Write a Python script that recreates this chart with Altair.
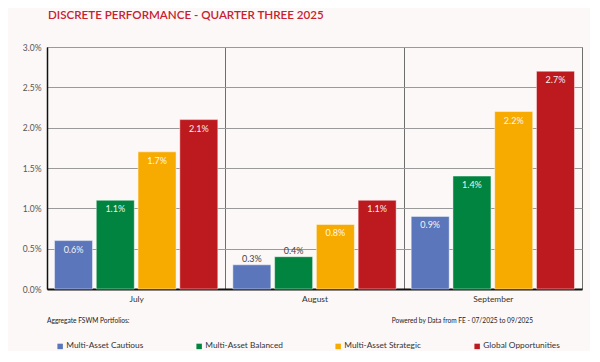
import altair as alt
import pandas as pd

months = ["July", "August", "September"]
series = ["Multi-Asset Cautious", "Multi-Asset Balanced", "Multi-Asset Strategic", "Global Opportunities"]
colors = ["#5b76bb", "#00843f", "#f7aa00", "#bc1a1e"]
cautious = [0.006, 0.003, 0.009]
balanced = [0.011, 0.004, 0.014]
strategic = [0.017, 0.008, 0.022]
global_opp = [0.021, 0.011, 0.027]

rows = []
for s, vals in zip(series, [cautious, balanced, strategic, global_opp]):
    for m, v in zip(months, vals):
        rows.append({"month": m, "series": s, "value": v})
df = pd.DataFrame(rows)

FONT = "Lato"
BG = "#fcf8f7"

x = alt.X("month:N", sort=months, title=None,
          scale=alt.Scale(paddingInner=0, paddingOuter=0),
          axis=alt.Axis(labelAngle=0, labelFontSize=8.4, labelColor="#333333", labelFont=FONT,
                        labelPadding=5, ticks=False, tickBand="extent", grid=True,
                        gridColor="#6e6e6e", gridWidth=1, domainColor="#111111", domainWidth=2))
xo = alt.XOffset("series:N", sort=series,
                 scale=alt.Scale(paddingInner=0.09, paddingOuter=0.18))
y = alt.Y("value:Q", title=None,
          scale=alt.Scale(domain=[0, 0.03], nice=False),
          axis=alt.Axis(format=".1%", values=[0, 0.005, 0.01, 0.015, 0.02, 0.025, 0.03],
                        labelFontSize=8.5, labelColor="#555555", labelFont=FONT, labelPadding=6,
                        ticks=False, grid=True, gridColor="#9a9a9a", gridWidth=1,
                        domainColor="#111111", domainWidth=1.5))

color = alt.Color("series:N", sort=series,
                  scale=alt.Scale(domain=series, range=colors),
                  legend=alt.Legend(title=None, orient="none", legendX=9, legendY=295,
                                    direction="horizontal", columns=4, gridAlign="all",
                                    columnPadding=50, symbolType="square", symbolSize=30,
                                    symbolStrokeWidth=0, labelFontSize=8.3, labelFont=FONT,
                                    labelColor="#333333", labelOffset=2))

base = alt.Chart(df)

bars = base.mark_bar(stroke="white", strokeOpacity=0.45, strokeWidth=1).encode(
    x=x, xOffset=xo, y=y, color=color)

inside = base.transform_filter(alt.datum.value >= 0.005).mark_text(
    color="white", fontSize=9, font=FONT, baseline="middle", dy=9, opacity=0.92
).encode(x=alt.X("month:N", sort=months), xOffset=alt.XOffset("series:N", sort=series),
         y="value:Q", text=alt.Text("value:Q", format=".1%"))

above = base.transform_filter(alt.datum.value < 0.005).mark_text(
    color="#444444", fontSize=9, font=FONT, baseline="middle", dy=-6
).encode(x=alt.X("month:N", sort=months), xOffset=alt.XOffset("series:N", sort=series),
         y="value:Q", text=alt.Text("value:Q", format=".1%"))

notes_df = pd.DataFrame({"t": ["Aggregate FSWM Portfolios:"]})
note_left = alt.Chart(notes_df).mark_text(
    align="left", baseline="middle", fontSize=6.6, font=FONT, color="#222222"
).encode(x=alt.value(0), y=alt.value(274), text="t:N")
notes_df2 = pd.DataFrame({"t": ["Powered by Data from FE - 07/2025 to 09/2025"]})
note_right = alt.Chart(notes_df2).mark_text(
    align="right", baseline="middle", fontSize=6.6, font=FONT, color="#222222"
).encode(x=alt.value(486), y=alt.value(274), text="t:N")

chart = alt.layer(bars, inside, above, note_left, note_right).properties(
    width=535, height=242,
    title=alt.Title("DISCRETE PERFORMANCE - QUARTER THREE 2025", anchor="start", frame="group",
                    dx=1, offset=21, fontSize=11.6, font=FONT, fontWeight=600, color="#c8202f"),
    autosize=alt.AutoSizeParams(type="none"),
    padding={"left": 39, "top": 39, "right": 8, "bottom": 62},
    background=BG,
).configure_view(stroke="#8a8a8a", strokeWidth=1)

chart.save("out.html", embed_options={"renderer": "svg", "actions": False})
